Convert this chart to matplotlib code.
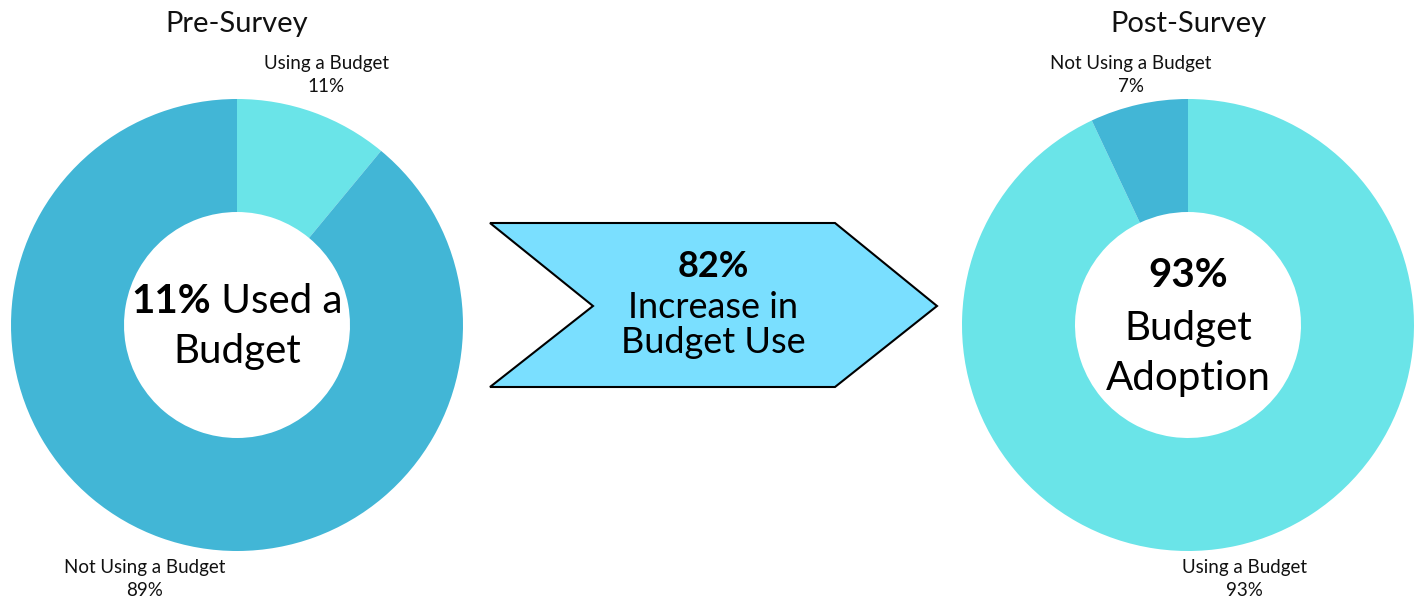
import matplotlib
matplotlib.use("Agg")
import matplotlib.pyplot as plt
from matplotlib.patches import Polygon

# ---- data ----
pre_labels = ["Using a Budget", "Not Using a Budget"]
pre_values = [11, 89]
post_labels = ["Using a Budget", "Not Using a Budget"]
post_values = [93, 7]
titles = ["Pre-Survey", "Post-Survey"]
increase_pct = 82

LIGHT = "#6AE4E8"
DARK = "#42B6D6"
ARROW = "#7ADFFF"
FONT = "Lato"

plt.rcParams['font.family'] = [FONT, 'DejaVu Sans']

W, H = 1418, 599
fig = plt.figure(figsize=(W / 100, H / 100), dpi=100)
ax = fig.add_axes([0, 0, 1, 1])

R, HOLE = 226, 113
cL = (237, H - 325)
cR = (1188, H - 325)

ax.pie(pre_values, colors=[LIGHT, DARK], startangle=90, counterclock=False,
       center=cL, radius=R, frame=True,
       wedgeprops=dict(width=R - HOLE, linewidth=0))
ax.pie(post_values, colors=[LIGHT, DARK], startangle=90, counterclock=False,
       center=cR, radius=R, frame=True,
       wedgeprops=dict(width=R - HOLE, linewidth=0))

ax.set_xlim(0, W)
ax.set_ylim(0, H)
ax.set_aspect('equal')
ax.axis('off')

TXT = '#111111'
# titles
ax.text(237, H - 32, titles[0], ha='center', va='baseline', fontsize=21, color=TXT)
ax.text(1188, H - 32, titles[1], ha='center', va='baseline', fontsize=21, color=TXT)

# slice labels
lab_fs = 13.5
for x, y, lab, val in [(326, 69, pre_labels[0], pre_values[0]),
                       (145, 573, pre_labels[1], pre_values[1]),
                       (1131, 69, post_labels[1], post_values[1]),
                       (1244, 573, post_labels[0], post_values[0])]:
    ax.text(x, H - y, lab, ha='center', va='baseline', fontsize=lab_fs, color=TXT)
    ax.text(x, H - y - 23, f"{val}%", ha='center', va='baseline', fontsize=lab_fs, color=TXT)

# center texts
cfs = 29
renderer = fig.canvas.get_renderer()
t1 = ax.text(0, H - 313, f"{pre_values[0]}%", ha='left', va='baseline', fontsize=cfs, fontweight='bold')
t2 = ax.text(0, H - 313, " Used a", ha='left', va='baseline', fontsize=cfs)
w1 = t1.get_window_extent(renderer).width
w2 = t2.get_window_extent(renderer).width
x0 = cL[0] - (w1 + w2) / 2
t1.set_x(x0)
t2.set_x(x0 + w1)
ax.text(cL[0], H - 363, "Budget", ha='center', va='baseline', fontsize=cfs)

ax.text(cR[0], H - 287, f"{post_values[0]}%", ha='center', va='baseline', fontsize=cfs, fontweight='bold')
ax.text(cR[0], H - 340, "Budget", ha='center', va='baseline', fontsize=cfs)
ax.text(cR[0], H - 390, "Adoption", ha='center', va='baseline', fontsize=cfs)

# arrow
pts = [(490, 223), (835, 223), (937, 306), (835, 387), (490, 387), (593, 306)]
ax.add_patch(Polygon([(x, H - y) for x, y in pts], closed=True, facecolor=ARROW,
                     edgecolor='black', linewidth=1.5, joinstyle='miter'))
afs = 26
ax.text(713, H - 277, f"{increase_pct}%", ha='center', va='baseline', fontsize=afs, fontweight='bold')
ax.text(713, H - 318, "Increase in", ha='center', va='baseline', fontsize=afs)
ax.text(713, H - 353, "Budget Use", ha='center', va='baseline', fontsize=afs)

fig.savefig("out.png", dpi=100, facecolor='white')
